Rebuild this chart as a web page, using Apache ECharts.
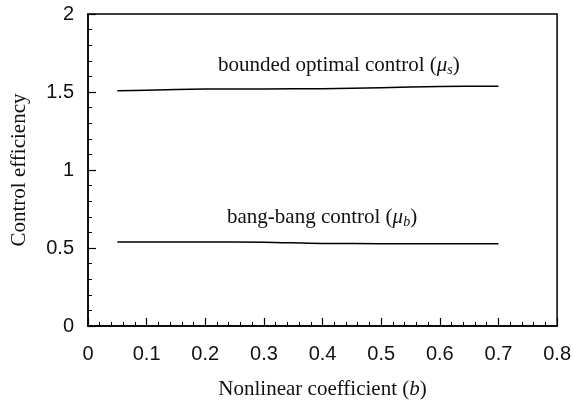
<!DOCTYPE html>
<html>
<head>
<meta charset="utf-8">
<script src="https://cdn.jsdelivr.net/npm/echarts@6/dist/echarts.min.js"></script>
<style>
html,body{margin:0;padding:0;background:#fff;}
#chart{width:574px;height:405px;}
</style>
</head>
<body>
<div id="chart"></div>
<script>
var bValues = [0.05, 0.1, 0.2, 0.3, 0.4, 0.5, 0.6, 0.7];
var boundedOptimal = [1.508, 1.512, 1.519, 1.52, 1.521, 1.528, 1.535, 1.537];
var bangBang = [0.538, 0.539, 0.539, 0.537, 0.529, 0.528, 0.528, 0.528];
var xTicks = [0, 0.1, 0.2, 0.3, 0.4, 0.5, 0.6, 0.7, 0.8];
var yTicks = [0, 0.5, 1, 1.5, 2];

function pairs(xs, ys) { return xs.map(function (x, i) { return [x, ys[i]]; }); }

var serif = '"Liberation Serif", "Times New Roman", serif';
var sans = '"Liberation Sans", Arial, sans-serif';

var chart = echarts.init(document.getElementById('chart'));
chart.setOption({
  animation: false,
  backgroundColor: '#fff',
  grid: { left: 88, right: 15, top: 14, bottom: 77, show: true, borderColor: '#000', borderWidth: 1.5, backgroundColor: 'transparent' },
  xAxis: {
    type: 'value', min: xTicks[0], max: xTicks[xTicks.length - 1], interval: 0.1,
    name: '{n|Nonlinear coefficient (}{i|b}{n|)}',
    nameLocation: 'middle', nameGap: 53,
    nameTextStyle: { rich: { n: { fontFamily: serif, fontSize: 21, color: '#111' }, i: { fontFamily: serif, fontSize: 21, fontStyle: 'italic', color: '#111' } } },
    axisLine: { lineStyle: { color: '#000', width: 1.5 } },
    axisTick: { inside: true, length: 8, lineStyle: { color: '#000', width: 1.2 } },
    minorTick: { show: true, splitNumber: 5, length: 4, lineStyle: { color: '#000', width: 1 } },
    splitLine: { show: false },
    axisLabel: { fontFamily: sans, fontSize: 20, color: '#111', margin: 18,
      formatter: function (v) { return v === 0 ? '0' : v.toFixed(1); } }
  },
  yAxis: {
    type: 'value', min: yTicks[0], max: yTicks[yTicks.length - 1], interval: 0.5,
    name: 'Control efficiency',
    nameLocation: 'middle', nameGap: 58,
    nameTextStyle: { fontFamily: serif, fontSize: 21, color: '#111' },
    axisLine: { lineStyle: { color: '#000', width: 1.5 } },
    axisTick: { inside: true, length: 8, lineStyle: { color: '#000', width: 1.2 } },
    minorTick: { show: true, splitNumber: 5, length: 4, lineStyle: { color: '#000', width: 1 } },
    splitLine: { show: false },
    axisLabel: { fontFamily: sans, fontSize: 20, color: '#111', margin: 14,
      formatter: function (v) { return String(v); } }
  },
  series: [
    { type: 'line', name: 'bounded', data: pairs(bValues, boundedOptimal), smooth: 0.3, symbol: 'none',
      lineStyle: { color: '#000', width: 1.5 } },
    { type: 'line', name: 'bang', data: pairs(bValues, bangBang), smooth: 0.3, symbol: 'none',
      lineStyle: { color: '#000', width: 1.5 } }
  ],
  graphic: [
    { type: 'text', left: 218, top: 55, silent: true,
      style: { text: '{n|bounded optimal control (}{i|μ}{s|s}{n|)}',
        rich: { n: { fontFamily: serif, fontSize: 21, fill: '#111' },
                i: { fontFamily: serif, fontSize: 21, fontStyle: 'italic', fill: '#111' },
                s: { fontFamily: serif, fontSize: 14, fontStyle: 'italic', fill: '#111', padding: [10, 0, 0, 0] } } } },
    { type: 'text', left: 227, top: 207, silent: true,
      style: { text: '{n|bang-bang control (}{i|μ}{s|b}{n|)}',
        rich: { n: { fontFamily: serif, fontSize: 21, fill: '#111' },
                i: { fontFamily: serif, fontSize: 21, fontStyle: 'italic', fill: '#111' },
                s: { fontFamily: serif, fontSize: 14, fontStyle: 'italic', fill: '#111', padding: [10, 0, 0, 0] } } } }
  ]
});
</script>
</body>
</html>
